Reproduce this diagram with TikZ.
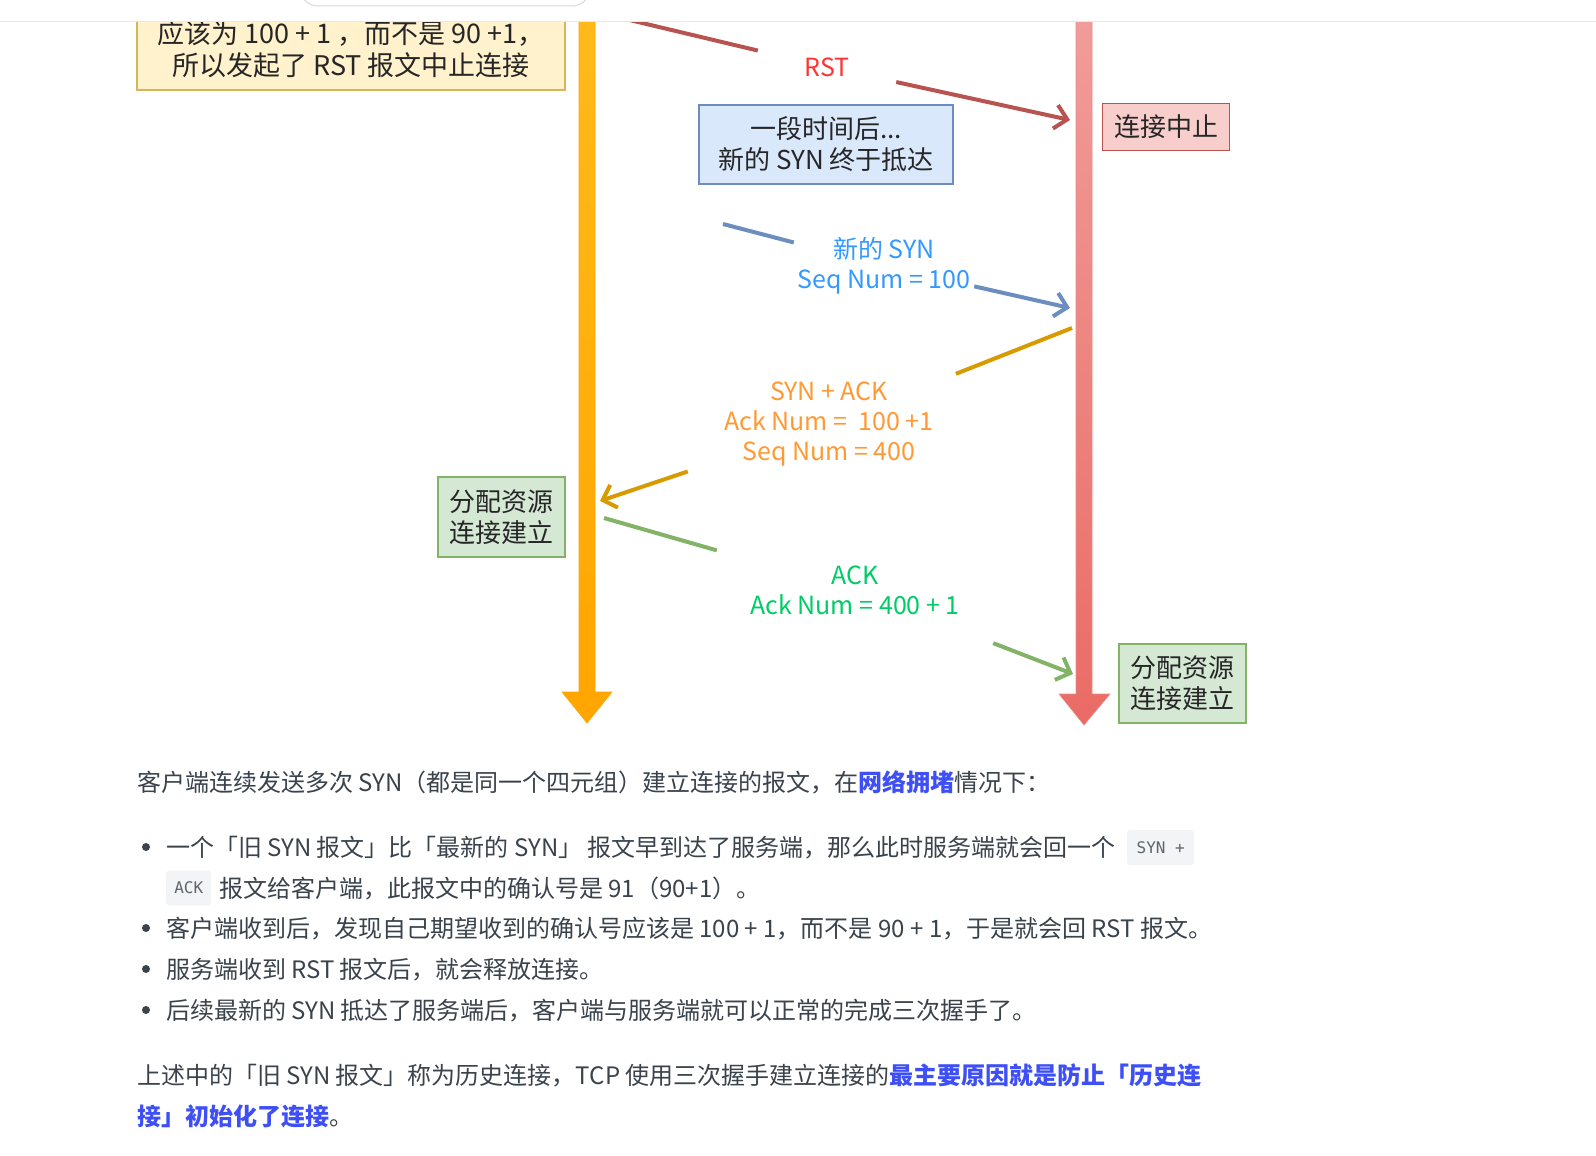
\documentclass[tikz,border=0pt]{standalone}
\usepackage{fontspec}
\setmainfont{Noto Sans CJK SC}
\newfontfamily\codefont{DejaVu Sans Mono}
\usetikzlibrary{arrows.meta,positioning,calc}

\definecolor{noteFill}{HTML}{FFF2CC}
\definecolor{noteLine}{HTML}{D6B656}
\definecolor{blueFill}{HTML}{DAE8FC}
\definecolor{blueLine}{HTML}{6C8EBF}
\definecolor{redFill}{HTML}{F8CECC}
\definecolor{redLine}{HTML}{B85450}
\definecolor{greenFill}{HTML}{D5E8D4}
\definecolor{greenLine}{HTML}{82B366}
\definecolor{orangeLine}{HTML}{D79B00}
\definecolor{orangeTop}{HTML}{FFBA1A}
\definecolor{orangeBot}{HTML}{FFA500}
\definecolor{redTop}{HTML}{F19C99}
\definecolor{redBot}{HTML}{EA6B66}
\definecolor{rstText}{HTML}{FF3333}
\definecolor{synText}{HTML}{3399FF}
\definecolor{sakText}{HTML}{FF9933}
\definecolor{ackText}{HTML}{00CC66}
\definecolor{bodyText}{HTML}{3A424C}
\definecolor{linkBlue}{HTML}{3D4FF5}
\definecolor{codeBg}{HTML}{F3F4F5}
\definecolor{codeText}{HTML}{5C6670}
\definecolor{ruleGray}{HTML}{E6E8EB}

\begin{document}
\begin{tikzpicture}[x=1pt,y=-1pt,
  box/.style={draw,line width=1.2pt,align=center,inner sep=0pt,font=\fontsize{26}{31}\selectfont,text=black!85},
  lbl/.style={align=center,inner sep=0pt,font=\fontsize{25}{30}\selectfont},
  msg/.style={line width=4pt,-{Straight Barb[length=12pt,width=24pt]}},
  body/.style={anchor=base west,inner sep=0pt,text=bodyText,font=\fontsize{24}{40}\selectfont},
  code/.style={fill=codeBg,rounded corners=3pt,inner sep=0pt,minimum height=35pt,text=codeText,font=\codefont\fontsize{16}{20}\selectfont},
  dot/.style={circle,fill=bodyText,inner sep=0pt,minimum size=8pt}
]
\useasboundingbox (0,0) rectangle (1596,1156);

% lifelines
\coordinate (cliTop) at (587,21);
\coordinate (cliEnd) at (587,723);
\coordinate (srvTop) at (1084,21);
\coordinate (srvEnd) at (1084,725);
\shade[top color=orangeTop,bottom color=orangeBot,draw=orangeBot,line width=0.6pt]
  (579,21) -- (595,21) -- (595,692) -- (612,692) -- (cliEnd) -- (562,692) -- (579,692) -- cycle;
\shade[top color=redTop,bottom color=redBot,draw=redTop!80!redLine,line width=0.6pt]
  (1076,21) -- (1092,21) -- (1092,694) -- (1110,694) -- (srvEnd) -- (1059,694) -- (1076,694) -- cycle;

% boxes
\node[box,fill=noteFill,draw=noteLine,minimum width=428,minimum height=82,font=\fontsize{27}{31.5}\selectfont] (note) at (351,49) {应该为 100 + 1 ，而不是 90 +1，\\所以发起了 RST 报文中止连接};
\node[box,fill=redFill,draw=redLine,minimum width=127,minimum height=47] (abort) at (1166,127) {连接中止};
\node[box,fill=blueFill,draw=blueLine,minimum width=254,minimum height=79] (later) at (826,144.5) {一段时间后...\\新的 SYN 终于抵达};
\node[box,fill=greenFill,draw=greenLine,minimum width=127,minimum height=80] (cliOk) at (501.5,517) {分配资源\\连接建立};
\node[box,fill=greenFill,draw=greenLine,minimum width=127,minimum height=79] (srvOk) at (1182.5,683.5) {分配资源\\连接建立};

% messages
\node[lbl,text=rstText,minimum width=138,minimum height=44] (rst) at (827,67) {RST};
\node[lbl,text=synText,minimum width=180,minimum height=64] (newSyn) at (884,266) {新的 SYN\\Seq Num = 100};
\node[lbl,text=sakText,minimum width=282,minimum height=100] (synAck) at (829,424) {SYN + ACK\\Ack Num = \ 100 +1\\Seq Num = 400};
\node[lbl,text=ackText,minimum width=276,minimum height=110] (ack) at (855,590) {ACK\\Ack Num = 400 + 1};

\coordinate (rstFrom) at (596,12);
\coordinate (rstTo) at (1070,120);
\coordinate (synFrom) at (723,224);
\coordinate (synTo) at (1070,308);
\coordinate (sakFrom) at (1072,328);
\coordinate (sakTo) at (600,501);
\coordinate (ackFrom) at (604,518);
\coordinate (ackTo) at (1073,674);

\draw[msg,draw=redLine] (rstFrom) -- (rst) -- (rstTo);
\draw[msg,draw=blueLine] (synFrom) -- (newSyn) -- (synTo);
\draw[msg,draw=orangeLine] (sakFrom) -- (synAck) -- (sakTo);
\draw[msg,draw=greenLine] (ackFrom) -- (ack) -- (ackTo);

% page header
\begin{scope}
\clip (0,0) rectangle (1596,1156);
\fill[white] (0,-2) rectangle (1596,21);
\draw[ruleGray,line width=1pt] (0,21.5) -- (1596,21.5);
\draw[black!15,fill=white,line width=1pt,rounded corners=18pt] (300,-40) rectangle (590,6);
\end{scope}

% text below
\node[body] (p1) at (137,791) {客户端连续发送多次 SYN（都是同一个四元组）建立连接的报文，在\textcolor{linkBlue}{\bfseries 网络拥堵}情况下：};
\foreach \i/\y in {1/847,2/928,3/969,4/1010}
  \node[dot] (dot\i) at (146,\y) {};
\node[body] (l1) at (166,856) {一个「旧 SYN 报文」比「最新的 SYN」 报文早到达了服务端，那么此时服务端就会回一个};
\node[code,minimum width=67,anchor=west] (c1) at (1127,847.5) {SYN +};
\node[code,minimum width=45,anchor=west] (c2) at (166,888) {ACK};
\node[body] (l1b) at (219,897) {报文给客户端，此报文中的确认号是 91（90+1）。};
\node[body] (l2) at (166,937) {客户端收到后，发现自己期望收到的确认号应该是 100 + 1，而不是 90 + 1，于是就会回 RST 报文。};
\node[body] (l3) at (166,978) {服务端收到 RST 报文后，就会释放连接。};
\node[body] (l4) at (166,1019) {后续最新的 SYN 抵达了服务端后，客户端与服务端就可以正常的完成三次握手了。};
\node[body] (p2) at (137,1084) {上述中的「旧 SYN 报文」称为历史连接，TCP 使用三次握手建立连接的\textcolor{linkBlue}{\bfseries 最主要原因就是防止「历史连}};
\node[body] (p2b) at (137,1125) {\textcolor{linkBlue}{\bfseries 接」初始化了连接}。};
\end{tikzpicture}
\end{document}
